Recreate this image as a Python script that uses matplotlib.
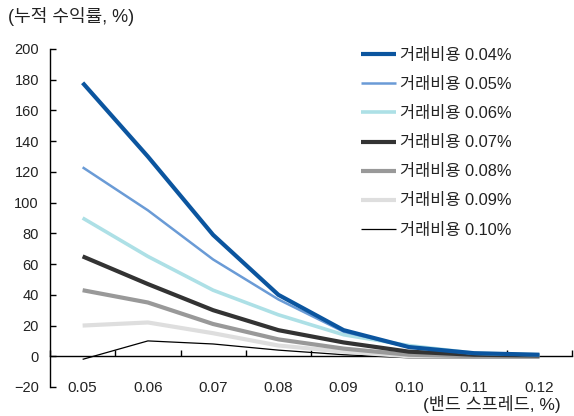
import matplotlib
matplotlib.use("Agg")
import matplotlib.pyplot as plt

plt.rcParams['font.family'] = ['Liberation Sans', 'Noto Sans CJK KR', 'DejaVu Sans']
plt.rcParams['axes.unicode_minus'] = True

# 밴드 스프레드 (%)
spreads = ['0.05', '0.06', '0.07', '0.08', '0.09', '0.10', '0.11', '0.12']

# 거래비용별 누적 수익률 (%)
cost_labels = ['거래비용 0.04%', '거래비용 0.05%', '거래비용 0.06%', '거래비용 0.07%',
               '거래비용 0.08%', '거래비용 0.09%', '거래비용 0.10%']
ret_004 = [178, 130, 79, 40, 17, 6, 2, 1]
ret_005 = [123, 95, 63, 37, 16, 6, 2, 1]
ret_006 = [90, 65, 43, 27, 14, 7, 2, 1]
ret_007 = [65, 47, 30, 17, 9, 3, 1, 0.5]
ret_008 = [43, 35, 21, 11, 5, 1, 0, 0]
ret_009 = [20, 22, 15, 7, 3, 0, 0, 0]
ret_010 = [-2, 10, 8, 4, 1, -1, -1, -1]

series = [ret_004, ret_005, ret_006, ret_007, ret_008, ret_009, ret_010]
colors = ['#0b559f', '#6a9bd6', '#ade0e6', '#333333', '#999999', '#dedede', '#000000']
widths = [3.0, 1.8, 2.6, 3.0, 3.0, 3.0, 0.9]

fig = plt.figure(figsize=(5.74, 4.16), dpi=100)
ax = fig.add_axes([50/574, 1 - 387/416, (572 - 50)/574, (387 - 49)/416])

x = list(range(len(spreads)))
# draw lightest first so dark lines sit on top like the original
for i in reversed(range(len(series))):
    ax.plot(x, series[i], color=colors[i], lw=widths[i], label=cost_labels[i],
            solid_capstyle='butt', zorder=3 + (len(series) - i))

ax.set_xlim(-0.5, 7.5)
ax.set_ylim(-20, 200)
ax.set_yticks(range(-20, 201, 20))
ax.set_yticklabels([('−20' if v < 0 else str(v)) for v in range(-20, 201, 20)])

ax.spines['top'].set_visible(False)
ax.spines['right'].set_visible(False)
ax.spines['bottom'].set_position(('data', 0))
ax.spines['left'].set_linewidth(1.0)
ax.spines['bottom'].set_linewidth(1.0)

ax.set_xticks(x)
ax.set_xticklabels(spreads)
ax.set_xticks([v - 0.5 for v in x] + [7.5], minor=True)
ax.tick_params(axis='x', which='major', length=0, pad=18, labelsize=11, colors='#222222')
ax.tick_params(axis='x', which='minor', direction='in', length=4, width=1, color='black')
ax.tick_params(axis='y', direction='in', length=4, width=1, labelsize=10.5, pad=8,
               colors='black', labelcolor='#222222')

handles, labels = ax.get_legend_handles_labels()
handles, labels = handles[::-1], labels[::-1]
fig.legend(handles, labels, loc='upper left', bbox_to_anchor=(361/574, 1 - 48/416),
           frameon=False, fontsize=11.8, handlelength=2.15, handletextpad=0.2,
           labelspacing=0.86, borderpad=0, borderaxespad=0, labelcolor='#222222')

fig.text(8/574, 1 - 17/416, '(누적 수익률, %)', fontsize=13, va='center', ha='left', color='#222222')
fig.text(561/574, 1 - 404/416, '(밴드 스프레드, %)', fontsize=12.5, va='center', ha='right', color='#222222')

fig.savefig('out.png', dpi=100)
